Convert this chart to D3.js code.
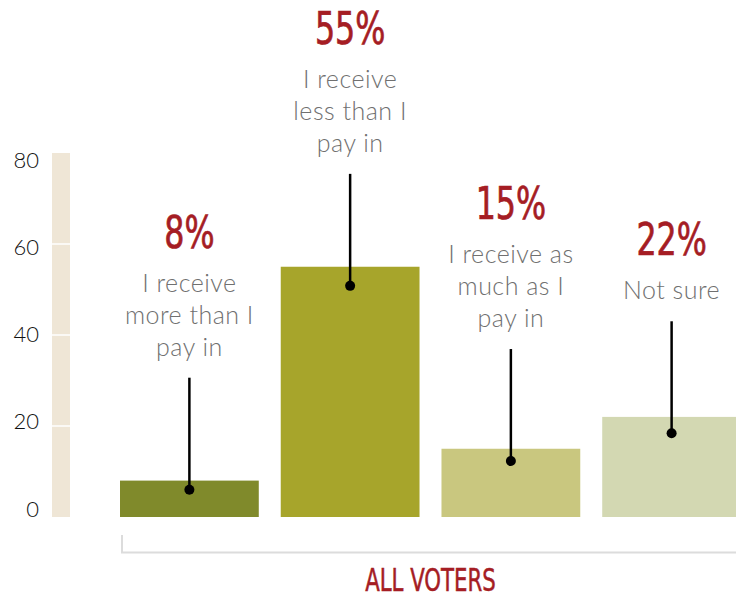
<!DOCTYPE html>
<html>
<head>
<meta charset="utf-8">
<script src="https://cdn.jsdelivr.net/npm/d3@7"></script>
<style>
  html, body { margin: 0; padding: 0; background: #fff; }
  svg { display: block; }
</style>
</head>
<body>
<svg id="chart" width="736" height="598"></svg>
<script>
// ---- data ----
const categories = ["more", "less", "same", "notsure"];
const values = [8, 55, 15, 22];
const dotValues = [6, 50.8, 12.3, 18.4];
const labelLines = [
  ["I receive", "more than I", "pay in"],
  ["I receive", "less than I", "pay in"],
  ["I receive as", "much as I", "pay in"],
  ["Not sure"]
];
const barColors = ["#808a2b", "#a7a52b", "#c9c77f", "#d3d8b2"];
const yTicks = [0, 20, 40, 60, 80];
const groupLabel = "ALL VOTERS";

// ---- layout ----
const svg = d3.select("#chart");
const W = 736, H = 598;
const condensed = "'Liberation Sans Narrow', 'DejaVu Sans Condensed', 'Liberation Sans', sans-serif";
const lightFont = "Lato, 'Open Sans', 'DejaVu Sans', sans-serif";
const red = "#a51d24";

const y = d3.scaleLinear().domain([0, 80]).range([517, 153]);
const yLabel = d3.scaleLinear().domain([0, 80]).range([509, 160]);
const x = d3.scaleBand().domain(categories).range([120, 741]).paddingInner(22 / 161).paddingOuter(0);

// axis band
svg.append("rect")
  .attr("x", 52).attr("width", 18)
  .attr("y", y(80)).attr("height", y(0) - y(80))
  .attr("fill", "#efe6d6");
svg.selectAll("line.grid").data(yTicks.filter(t => t > 0 && t < 80)).enter()
  .append("line").attr("class", "grid")
  .attr("x1", 52).attr("x2", 70)
  .attr("y1", d => y(d)).attr("y2", d => y(d))
  .attr("stroke", "#fff").attr("stroke-width", 1.5);

// tick labels
svg.selectAll("text.tick").data(yTicks).enter()
  .append("text").attr("class", "tick")
  .attr("x", 39).attr("y", d => yLabel(d))
  .attr("dy", "0.35em")
  .attr("text-anchor", "end")
  .attr("font-family", lightFont)
  .attr("font-weight", 300)
  .attr("font-size", 22)
  .attr("fill", "#111")
  .text(d => d);

// bars
svg.selectAll("rect.bar").data(values).enter()
  .append("rect").attr("class", "bar")
  .attr("x", (d, i) => x(categories[i]))
  .attr("width", x.bandwidth())
  .attr("y", d => y(d))
  .attr("height", d => y(0) - y(d))
  .attr("fill", (d, i) => barColors[i]);

// annotations
const lineLen = 112;
categories.forEach((c, i) => {
  const cx = x(c) + x.bandwidth() / 2;
  const dy = y(dotValues[i]);
  const top = dy - lineLen;
  const g = svg.append("g");
  g.append("line")
    .attr("x1", cx).attr("x2", cx)
    .attr("y1", top).attr("y2", dy)
    .attr("stroke", "#000").attr("stroke-width", 2.5);
  g.append("circle")
    .attr("cx", cx).attr("cy", dy).attr("r", 5)
    .attr("fill", "#000");
  const lines = labelLines[i];
  const lastBase = top - 22;
  const firstBase = lastBase - 32 * (lines.length - 1);
  lines.forEach((t, k) => {
    g.append("text")
      .attr("x", cx).attr("y", firstBase + 32 * k)
      .attr("text-anchor", "middle")
      .attr("font-family", lightFont)
      .attr("font-weight", 300)
      .attr("font-size", 25)
      .attr("letter-spacing", 0.5)
      .attr("fill", "#707070")
      .text(t);
  });
  g.append("text")
    .attr("transform", `translate(${cx},${firstBase - 44}) scale(0.8,1)`)
    .attr("text-anchor", "middle")
    .attr("font-family", condensed)
    .attr("font-size", 44)
    .attr("fill", red)
    .attr("stroke", red)
    .attr("stroke-width", 0.7)
    .text(values[i] + "%");
});

// bracket
const bx0 = x(categories[0]) + 2;
const bx1 = W;
svg.append("path")
  .attr("d", `M${bx0},535 V552.5 H${bx1}`)
  .attr("fill", "none")
  .attr("stroke", "#dcdcdc")
  .attr("stroke-width", 2);

svg.append("text")
  .attr("transform", `translate(${(x(categories[0]) + x.range()[1]) / 2},591) scale(0.74,1)`)
  .attr("text-anchor", "middle")
  .attr("font-family", condensed)
  .attr("font-size", 32)
  .attr("fill", red)
  .attr("stroke", red)
  .attr("stroke-width", 0.5)
  .text(groupLabel);
</script>
</body>
</html>
